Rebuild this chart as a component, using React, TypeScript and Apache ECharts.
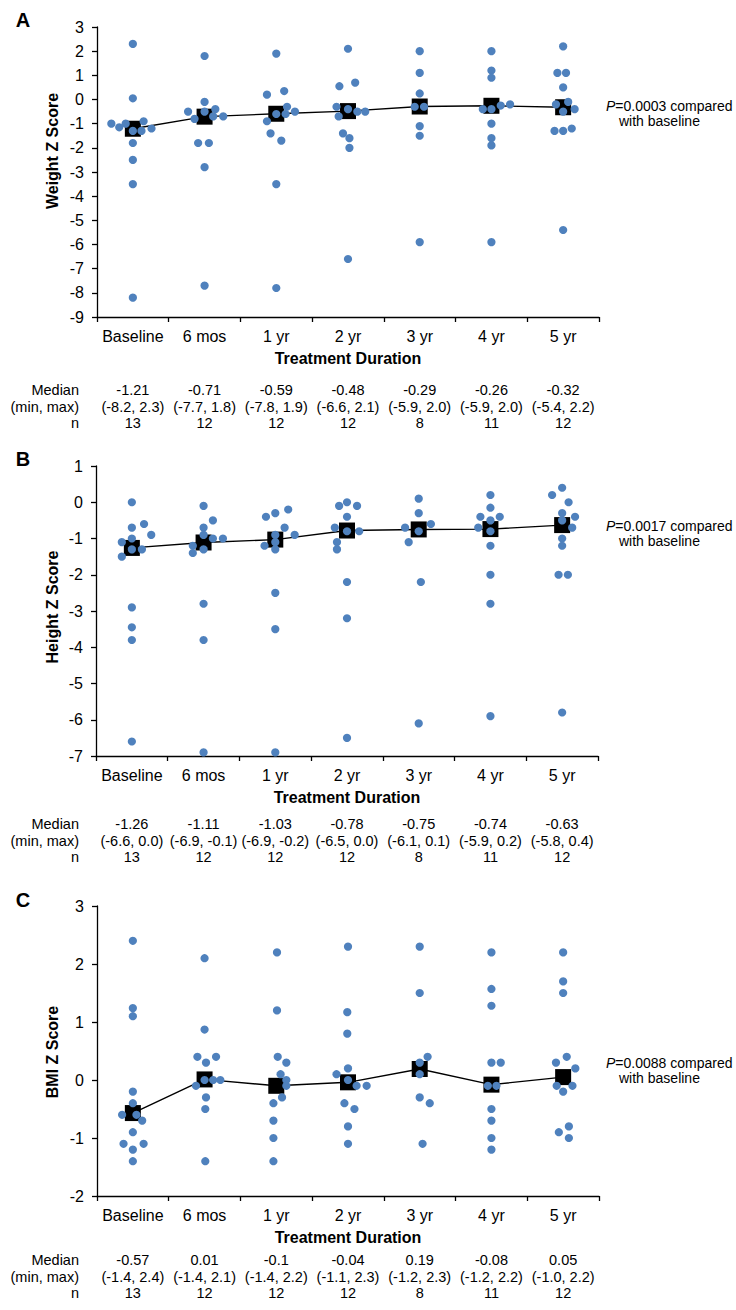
import React, { useEffect, useRef } from "react";
import * as echarts from "echarts";

const categories = ["Baseline", "6 mos", "1 yr", "2 yr", "3 yr", "4 yr", "5 yr"];

// ---- Panel A: Weight Z score ----
const weightValues = [
  [2.3, 0.05, -1.0, -1.15, -1.0, -0.9, -1.3, -1.3, -1.2, -1.8, -2.5, -3.5, -8.2],
  [1.8, -0.1, -0.5, -0.4, -0.8, -0.5, -0.7, -0.7, -1.8, -1.8, -2.8, -7.7],
  [1.9, 0.2, 0.35, -0.3, -0.5, -0.6, -0.6, -0.9, -1.4, -1.7, -3.5, -7.8],
  [2.1, 0.55, 0.7, -0.3, -0.4, -0.5, -0.5, -0.7, -1.4, -1.6, -2.0, -6.6],
  [2.0, 1.1, 0.25, -0.3, -0.3, -1.1, -1.5, -5.9],
  [2.0, 1.2, 0.9, -0.25, -0.2, -0.4, -0.4, -1.0, -1.6, -1.9, -5.9],
  [2.2, 1.1, 1.1, 0.5, -0.1, -0.2, -0.4, -0.5, -1.3, -1.3, -1.2, -5.4],
];
const weightJitter = [
  [0, 0, -0.3, -0.19, -0.1, 0.15, 0, 0.12, 0.26, 0, 0, 0, 0],
  [0, 0, -0.23, 0.15, -0.14, 0, 0.12, 0.26, -0.09, 0.06, 0, 0],
  [0, -0.13, 0.11, 0.15, 0.26, 0, 0.13, -0.13, -0.08, 0.07, 0, 0],
  [0, -0.12, 0.1, -0.16, 0, 0.13, 0.24, -0.13, -0.07, 0.02, 0.02, 0],
  [0, 0, 0, -0.07, 0.06, 0, 0, 0],
  [0, 0, 0, 0.13, 0.26, -0.12, 0, 0, 0, 0, 0],
  [0, -0.08, 0.04, 0, 0.07, -0.1, 0.16, 0, -0.12, 0, 0.12, 0],
];
const weightMedian = [-1.21, -0.71, -0.59, -0.48, -0.29, -0.26, -0.32];
const weightMin = [-8.2, -7.7, -7.8, -6.6, -5.9, -5.9, -5.4];
const weightMax = [2.3, 1.8, 1.9, 2.1, 2.0, 2.0, 2.2];
const weightN = [13, 12, 12, 12, 8, 11, 12];
const weightTicks = [-9, 3];

// ---- Panel B: Height Z score ----
const heightValues = [
  [0.0, -0.7, -0.6, -0.9, -1.1, -1.0, -1.3, -1.3, -1.5, -2.9, -3.45, -3.8, -6.6],
  [-0.1, -0.5, -0.7, -0.9, -1.2, -1.4, -1.3, -1.0, -1.0, -2.8, -3.8, -6.9],
  [-0.2, -0.3, -0.4, -0.7, -0.9, -0.9, -1.2, -1.1, -1.3, -2.5, -3.5, -6.9],
  [0.0, -0.1, -0.1, -0.4, -0.7, -0.8, -0.8, -1.1, -1.3, -2.2, -3.2, -6.5],
  [0.1, -0.3, -0.6, -0.7, -0.8, -1.1, -2.2, -6.1],
  [0.2, -0.15, -0.4, -0.4, -0.5, -0.7, -0.8, -1.2, -2.0, -2.8, -5.9],
  [0.4, 0.2, 0.0, -0.3, -0.4, -0.5, -0.7, -1.0, -1.2, -2.0, -2.0, -5.8],
];
const heightJitter = [
  [0, 0, 0.17, 0.27, -0.14, 0, 0, 0.14, -0.14, 0, 0, 0, 0],
  [0, 0.13, 0, 0, -0.15, -0.15, 0, 0.13, 0.27, 0, 0, 0],
  [0.18, 0, -0.13, 0.13, 0.27, 0, -0.15, 0, 0, 0, 0, 0],
  [0, -0.11, 0.14, 0, -0.17, 0.17, 0, -0.14, -0.14, 0, 0, 0],
  [0, 0, 0.17, -0.19, 0, -0.14, 0.03, 0],
  [0, 0, -0.14, 0.13, 0, -0.17, 0, 0, 0, 0, 0],
  [0, -0.14, 0.09, 0, 0.18, 0, 0.14, 0, 0, -0.05, 0.08, 0],
];
const heightMedian = [-1.26, -1.11, -1.03, -0.78, -0.75, -0.74, -0.63];
const heightMin = [-6.6, -6.9, -6.9, -6.5, -6.1, -5.9, -5.8];
const heightMax = [0.0, -0.1, -0.2, 0.0, 0.1, 0.2, 0.4];
const heightN = [13, 12, 12, 12, 8, 11, 12];
const heightTicks = [-7, 1];

// ---- Panel C: BMI Z score ----
const bmiValues = [
  [2.4, 1.24, 1.1, -0.2, -0.4, -0.6, -0.6, -0.7, -0.9, -1.1, -1.1, -1.2, -1.4],
  [2.1, 0.87, 0.4, 0.4, 0.3, -0.1, 0.0, 0.0, 0.0, -0.3, -0.5, -1.4],
  [2.2, 1.2, 0.4, 0.3, 0.1, 0.0, -0.1, -0.3, -0.4, -0.7, -1.0, -1.4],
  [2.3, 1.17, 0.8, 0.2, 0.1, 0.0, -0.1, -0.1, -0.4, -0.5, -0.8, -1.1],
  [2.3, 1.5, 0.4, 0.3, 0.1, -0.3, -0.4, -1.1],
  [2.2, 1.57, 1.28, 0.3, 0.3, -0.1, -0.1, -0.5, -0.7, -1.0, -1.2],
  [2.2, 1.7, 1.5, 0.4, 0.3, 0.2, -0.1, -0.1, -0.2, -0.8, -0.9, -1.0],
];
const bmiJitter = [
  [0, 0, 0, 0, 0, -0.15, 0.05, 0.13, 0, -0.13, 0.15, 0, 0],
  [0, 0, -0.1, 0.16, 0.02, -0.12, 0, 0.12, 0.22, 0.02, 0.01, 0.01],
  [0.01, 0.01, 0.02, 0.14, 0.06, 0.14, 0.14, 0.08, -0.04, -0.04, -0.04, -0.04],
  [0, -0.01, -0.01, 0, -0.16, 0, 0.12, 0.26, -0.05, 0.09, 0, 0],
  [0, 0, 0.11, 0, 0, 0, 0.14, 0.04],
  [0, 0, 0, 0, 0.13, -0.05, 0.07, 0, 0, 0, 0],
  [0, 0, 0, 0.05, -0.1, 0.17, -0.09, 0.13, 0, 0.08, -0.06, 0.08],
];
const bmiMedian = [-0.57, 0.01, -0.1, -0.04, 0.19, -0.08, 0.05];
const bmiMin = [-1.4, -1.4, -1.4, -1.1, -1.2, -1.2, -1.0];
const bmiMax = [2.4, 2.1, 2.2, 2.3, 2.3, 2.2, 2.2];
const bmiN = [13, 12, 12, 12, 8, 11, 12];
const bmiTicks = [-2, 3];

const rowHeaders = ["Median", "(min, max)", "n"];
const FONT = '"Liberation Sans", Arial, Helvetica, sans-serif';
const DOT = "#4F81BD";

const panels = [
  {
    letter: "A", title: "Weight Z Score", p: "0.0003",
    values: weightValues, jitter: weightJitter, median: weightMedian,
    min: weightMin, max: weightMax, n: weightN, ticks: weightTicks,
    left: 97, top: 27, titleY: 151, letterY: 20, rowY: 390, pY: 106,
  },
  {
    letter: "B", title: "Height Z Score", p: "0.0017",
    values: heightValues, jitter: heightJitter, median: heightMedian,
    min: heightMin, max: heightMax, n: heightN, ticks: heightTicks,
    left: 96, top: 466, titleY: 607, letterY: 459, rowY: 824, pY: 526,
  },
  {
    letter: "C", title: "BMI Z Score", p: "0.0088",
    values: bmiValues, jitter: bmiJitter, median: bmiMedian,
    min: bmiMin, max: bmiMax, n: bmiN, ticks: bmiTicks,
    left: 97, top: 906, titleY: 1052, letterY: 900, rowY: 1260, pY: 1063,
  },
];

const W = 502;
const H = 290;
const ROW = 16.5;

function txt(x: number, y: number, text: string, opts: any = {}) {
  const align = opts.align || "center";
  return {
    type: "text",
    x,
    y,
    rotation: opts.rotation || 0,
    z: 10,
    style: {
      text,
      fill: "#000",
      fontFamily: FONT,
      fontSize: opts.fontSize || 14,
      fontWeight: opts.fontWeight || "normal",
      fontStyle: opts.fontStyle || "normal",
      align,
      textAlign: align,
      verticalAlign: "middle",
      textVerticalAlign: "middle",
      rich: opts.rich,
    },
  };
}

function buildOption() {
  const grid: any[] = [];
  const xAxis: any[] = [];
  const yAxis: any[] = [];
  const series: any[] = [];
  const graphic: any[] = [];

  panels.forEach((pn, i) => {
    grid.push({ left: pn.left, top: pn.top, width: W, height: H, containLabel: false });
    const axisLine = { show: true, onZero: false, lineStyle: { color: "#000", width: 1.3 } };
    xAxis.push({
      type: "value", gridIndex: i, min: 0, max: 7, interval: 1, position: "bottom",
      axisLine, axisTick: { show: true, inside: false, length: 5, lineStyle: { color: "#000", width: 1.3 } },
      axisLabel: { show: false }, splitLine: { show: false },
    });
    xAxis.push({
      type: "category", gridIndex: i, data: categories, boundaryGap: true, position: "bottom",
      axisLine: { show: false, onZero: false }, axisTick: { show: false }, splitLine: { show: false },
      axisLabel: { show: true, interval: 0, margin: 11, color: "#000", fontSize: 16, fontFamily: FONT },
    });
    xAxis.push({
      type: "category", gridIndex: i, data: categories, boundaryGap: true, position: "bottom",
      axisLine: { show: false, onZero: false }, axisTick: { show: false }, splitLine: { show: false },
      axisLabel: {
        show: true, interval: 0, margin: pn.rowY - ROW / 2 - (pn.top + H), color: "#000",
        fontSize: 14.5, lineHeight: ROW, fontFamily: FONT, align: "center",
        formatter: (_v: string, k: number) =>
          `${pn.median[k]}\n(${pn.min[k].toFixed(1)}, ${pn.max[k].toFixed(1)})\n${pn.n[k]}`,
      },
    });
    yAxis.push({
      type: "value", gridIndex: i, min: pn.ticks[0], max: pn.ticks[1], interval: 1,
      axisLine: { show: true, onZero: false, lineStyle: { color: "#000", width: 1.3 } },
      axisTick: { show: true, inside: false, length: 5, lineStyle: { color: "#000", width: 1.3 } },
      axisLabel: { show: true, margin: 13, color: "#000", fontSize: 16, fontFamily: FONT },
      splitLine: { show: false },
    });

    series.push({
      type: "line", xAxisIndex: i * 3, yAxisIndex: i, z: 2,
      data: pn.median.map((m, k) => [k + 0.5, m]),
      symbol: "rect", symbolSize: 16, showSymbol: true,
      itemStyle: { color: "#000" }, lineStyle: { color: "#000", width: 1.4 },
      silent: true,
    });
    const pts: number[][] = [];
    pn.values.forEach((col, k) => {
      col.forEach((v, j) => pts.push([k + 0.5 + pn.jitter[k][j], v]));
    });
    series.push({
      type: "scatter", xAxisIndex: i * 3, yAxisIndex: i, z: 3,
      data: pts, symbol: "circle", symbolSize: 8.2,
      itemStyle: { color: DOT, opacity: 1 }, silent: true,
    });

    graphic.push(txt(23, pn.letterY, pn.letter, { fontSize: 20, fontWeight: "bold" }));
    graphic.push(txt(52, pn.titleY, pn.title, { fontSize: 16, fontWeight: "bold", rotation: Math.PI / 2 }));
    graphic.push(txt(pn.left + W / 2, pn.top + H + 41, "Treatment Duration", { fontSize: 16, fontWeight: "bold" }));
    rowHeaders.forEach((h, r) => {
      graphic.push(txt(79, pn.rowY + r * ROW, h, { fontSize: 14.5, align: "right" }));
    });
    graphic.push(
      txt(606, pn.pY, `{i|P}{n|=${pn.p} compared}`, {
        fontSize: 14, align: "left",
        rich: {
          i: { fontStyle: "italic", fontSize: 14, fontFamily: FONT, fill: "#000", color: "#000" },
          n: { fontSize: 14, fontFamily: FONT, fill: "#000", color: "#000" },
        },
      })
    );
    graphic.push(txt(619, pn.pY + 14.5, "with baseline", { fontSize: 14, align: "left" }));
  });

  return {
    animation: false,
    backgroundColor: "#fff",
    grid,
    xAxis,
    yAxis,
    series,
    graphic: { elements: graphic },
  };
}

export default function App() {
  const ref = useRef<HTMLDivElement>(null);
  useEffect(() => {
    if (!ref.current) return;
    const chart = echarts.init(ref.current, undefined, { renderer: "svg" });
    chart.setOption(buildOption() as any);
    return () => chart.dispose();
  }, []);
  return (
    <div
      ref={ref}
      style={{ position: "absolute", left: 0, top: 0, width: 736, height: 1310, background: "#fff" }}
    />
  );
}
